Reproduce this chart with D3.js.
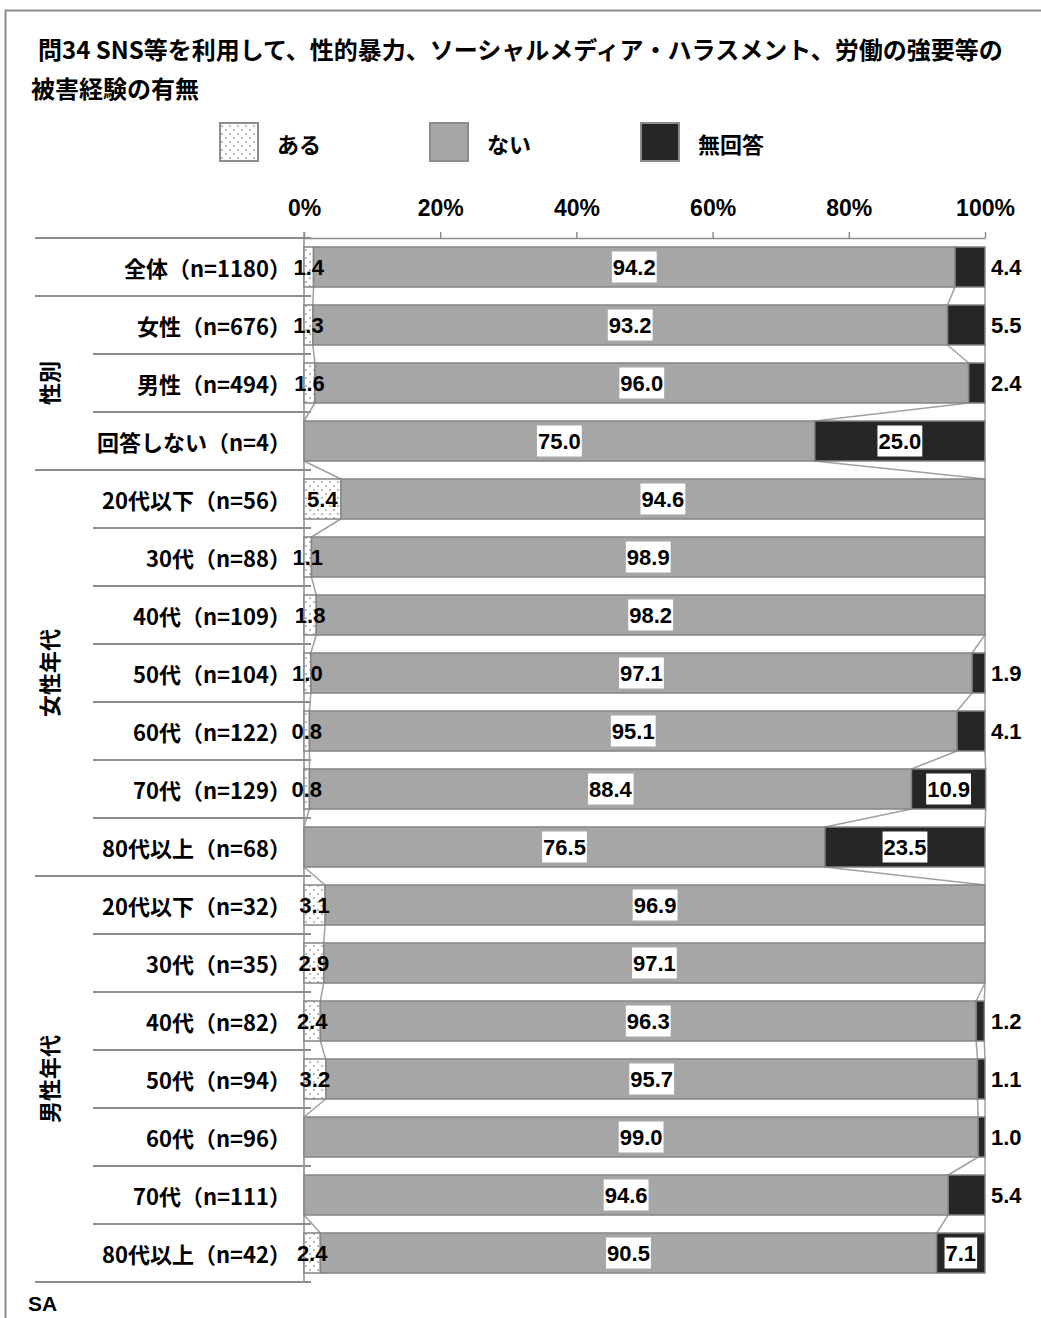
<!DOCTYPE html>
<html lang="ja">
<head>
<meta charset="utf-8">
<script src="https://cdn.jsdelivr.net/npm/d3@7"></script>
<style>
  html, body { margin: 0; padding: 0; background: #fff; }
  svg { display: block; }
  .jp { font-family: "Noto Sans CJK JP", "Noto Sans", sans-serif; font-weight: 700; fill: #000; }
  .num { font-family: "Liberation Sans", Arial, sans-serif; font-weight: 700; fill: #000; }
</style>
</head>
<body>
<script>
// Categories (top to bottom)
const categories = [
  "全体（n=1180）",
  "女性（n=676）", "男性（n=494）", "回答しない（n=4）",
  "20代以下（n=56）", "30代（n=88）", "40代（n=109）", "50代（n=104）",
  "60代（n=122）", "70代（n=129）", "80代以上（n=68）",
  "20代以下（n=32）", "30代（n=35）", "40代（n=82）", "50代（n=94）",
  "60代（n=96）", "70代（n=111）", "80代以上（n=42）"
];

// Series values (%)
const seriesNames = ["ある", "ない", "無回答"];
const aru    = [1.4, 1.3, 1.6, 0, 5.4, 1.1, 1.8, 1.0, 0.8, 0.8, 0, 3.1, 2.9, 2.4, 3.2, 0, 0, 2.4];
const nai    = [94.2, 93.2, 96.0, 75.0, 94.6, 98.9, 98.2, 97.1, 95.1, 88.4, 76.5, 96.9, 97.1, 96.3, 95.7, 99.0, 94.6, 90.5];
const mukaito = [4.4, 5.5, 2.4, 25.0, 0, 0, 0, 1.9, 4.1, 10.9, 23.5, 0, 0, 1.2, 1.1, 1.0, 5.4, 7.1];

// Row groups shown on the left (index ranges into categories)
const groupNames  = ["性別", "女性年代", "男性年代"];
const groupStarts = [1, 4, 11];
const groupEnds   = [3, 10, 17];

// Axis ticks
const tickValues = [0, 20, 40, 60, 80, 100];
const tickLabels = ["0%", "20%", "40%", "60%", "80%", "100%"];

const titleLines = [
  "問34 SNS等を利用して、性的暴力、ソーシャルメディア・ハラスメント、労働の強要等の",
  "被害経験の有無"
];

const W = 1041, H = 1318;
const svg = d3.select("body").append("svg").attr("width", W).attr("height", H);

// Dotted fill for the first series
const defs = svg.append("defs");
const pat = defs.append("pattern").attr("id", "dots")
  .attr("patternUnits", "userSpaceOnUse").attr("width", 8).attr("height", 8);
pat.append("rect").attr("width", 8).attr("height", 8).attr("fill", "#fff");
pat.append("circle").attr("cx", 2).attr("cy", 2).attr("r", 0.9).attr("fill", "#9a9a9a");
pat.append("circle").attr("cx", 6).attr("cy", 6).attr("r", 0.9).attr("fill", "#9a9a9a");

const fills = ["url(#dots)", "#a6a6a6", "#262626"];
const barStroke = "#858585";

// Outer frame (top and left edges)
svg.append("path")
  .attr("d", `M5.5,${H} L5.5,10.5 L${W},10.5`)
  .attr("fill", "none").attr("stroke", "#8c8c8c").attr("stroke-width", 2);

// Title
svg.selectAll("text.title").data(titleLines).join("text")
  .attr("class", "jp title")
  .attr("x", (d, i) => i === 0 ? 38 : 31)
  .attr("y", (d, i) => 48 + i * 39)
  .attr("dominant-baseline", "central")
  .style("font-size", "24px")
  .text(d => d);

// Scales
const x = d3.scaleLinear().domain([0, 100]).range([304, 985]);
const y = d3.scaleBand().domain(d3.range(categories.length))
  .range([238, 1282]).paddingInner(0.31).paddingOuter(0.155);

// Legend
const legendX = [220, 430, 641];
const legend = svg.append("g");
seriesNames.forEach((name, i) => {
  legend.append("rect")
    .attr("x", legendX[i]).attr("y", 123).attr("width", 38).attr("height", 38)
    .attr("fill", fills[i]).attr("stroke", "#8c8c8c").attr("stroke-width", 2);
  legend.append("text").attr("class", "jp")
    .attr("x", legendX[i] + 57).attr("y", 143)
    .attr("dominant-baseline", "central")
    .style("font-size", "22px").text(name);
});

// Top axis
const axisTop = d3.axisTop(x).tickValues(tickValues)
  .tickFormat((d, i) => tickLabels[i]).tickSize(6).tickSizeOuter(0);
const gAxis = svg.append("g").attr("transform", "translate(0,238)").call(axisTop);
gAxis.select(".domain").attr("stroke", "#8c8c8c").attr("stroke-width", 1.5);
gAxis.selectAll(".tick line").attr("stroke", "#8c8c8c").attr("stroke-width", 1.5);
gAxis.selectAll(".tick text")
  .attr("class", "num").attr("y", -30).attr("dy", "0.35em")
  .style("font-size", "23px");

// Left separator lines (horizontal rules between rows and groups)
const boundaries = d3.range(categories.length + 1);
const groupBoundary = new Set([0, 1, 4, 11, categories.length]);
const rowTop = i => i === categories.length ? 1282 : y(i) - y.step() * 0.155;
svg.append("g").selectAll("line").data(boundaries).join("line")
  .attr("x1", i => groupBoundary.has(i) ? 35 : 93)
  .attr("x2", 311)
  .attr("y1", i => rowTop(i)).attr("y2", i => rowTop(i))
  .attr("stroke", "#8c8c8c").attr("stroke-width", 2);
// top rule joins the axis line
svg.append("line").attr("x1", 35).attr("x2", 304).attr("y1", 238).attr("y2", 238)
  .attr("stroke", "#8c8c8c").attr("stroke-width", 1.5);

// Vertical category axis
svg.append("line").attr("x1", 304).attr("x2", 304).attr("y1", 232).attr("y2", 1282)
  .attr("stroke", "#8c8c8c").attr("stroke-width", 1.5);

// Stack data
const rows = categories.map((c, i) => {
  const vals = [aru[i], nai[i], mukaito[i]];
  let cum = 0;
  const segs = vals.map((v, k) => {
    const s = { row: i, k, v, x0: cum, x1: cum + v };
    cum += v;
    return s;
  });
  return { i, segs };
});

// Series lines connecting segment edges between consecutive bars
const connectors = [];
for (let i = 0; i < rows.length - 1; i++) {
  for (let k = 0; k < 3; k++) {
    connectors.push({
      xa: x(rows[i].segs[k].x1), ya: y(i) + y.bandwidth(),
      xb: x(rows[i + 1].segs[k].x1), yb: y(i + 1)
    });
  }
}
svg.append("g").selectAll("line").data(connectors).join("line")
  .attr("x1", d => d.xa).attr("y1", d => d.ya)
  .attr("x2", d => d.xb).attr("y2", d => d.yb)
  .attr("stroke", "#a0a0a0").attr("stroke-width", 1.5);

// Bars
const allSegs = rows.flatMap(r => r.segs).filter(s => s.v > 0);
svg.append("g").selectAll("rect").data(allSegs).join("rect")
  .attr("x", d => x(d.x0)).attr("width", d => x(d.x1) - x(d.x0))
  .attr("y", d => y(d.row)).attr("height", y.bandwidth())
  .attr("fill", d => fills[d.k])
  .attr("stroke", barStroke).attr("stroke-width", 1.5);

// Category labels
svg.append("g").selectAll("text").data(categories).join("text")
  .attr("class", "jp")
  .attr("x", 291).attr("y", (d, i) => y(i) + y.bandwidth() / 2)
  .attr("text-anchor", "end").attr("dominant-baseline", "central")
  .style("font-size", "22px")
  .text(d => d);

// Group labels (rotated)
groupNames.forEach((g, i) => {
  const cy = (rowTop(groupStarts[i]) + rowTop(groupEnds[i] + 1)) / 2;
  svg.append("text").attr("class", "jp")
    .attr("transform", `translate(48,${cy}) rotate(-90)`)
    .attr("text-anchor", "middle").attr("dominant-baseline", "central")
    .style("font-size", "22px").text(g);
});

// Value labels
const labelG = svg.append("g");
allSegs.forEach(s => {
  const cy = y(s.row) + y.bandwidth() / 2;
  const txt = s.v.toFixed(1);
  let tx, anchor = "middle", boxed = false;
  if (s.k === 0) {
    tx = (x(s.x0) + x(s.x1)) / 2;
  } else if (s.k === 1) {
    tx = (x(s.x0) + x(s.x1)) / 2; boxed = true;
  } else if (s.v >= 7) {
    tx = (x(s.x0) + x(s.x1)) / 2; boxed = true;
  } else {
    tx = x(100) + 6; anchor = "start";
  }
  const t = labelG.append("text").attr("class", "num")
    .attr("x", tx).attr("y", cy)
    .attr("text-anchor", anchor).attr("dominant-baseline", "central")
    .style("font-size", "22px").text(txt);
  if (boxed) {
    const bb = t.node().getBBox();
    labelG.insert("rect", () => t.node())
      .attr("x", bb.x - 1).attr("y", cy - 15.5)
      .attr("width", bb.width + 2).attr("height", 31)
      .attr("fill", "#fff");
  }
});

// Footnote
svg.append("text").attr("class", "num")
  .attr("x", 28).attr("y", 1303).attr("dominant-baseline", "central")
  .style("font-size", "21px").text("SA");
</script>
</body>
</html>
